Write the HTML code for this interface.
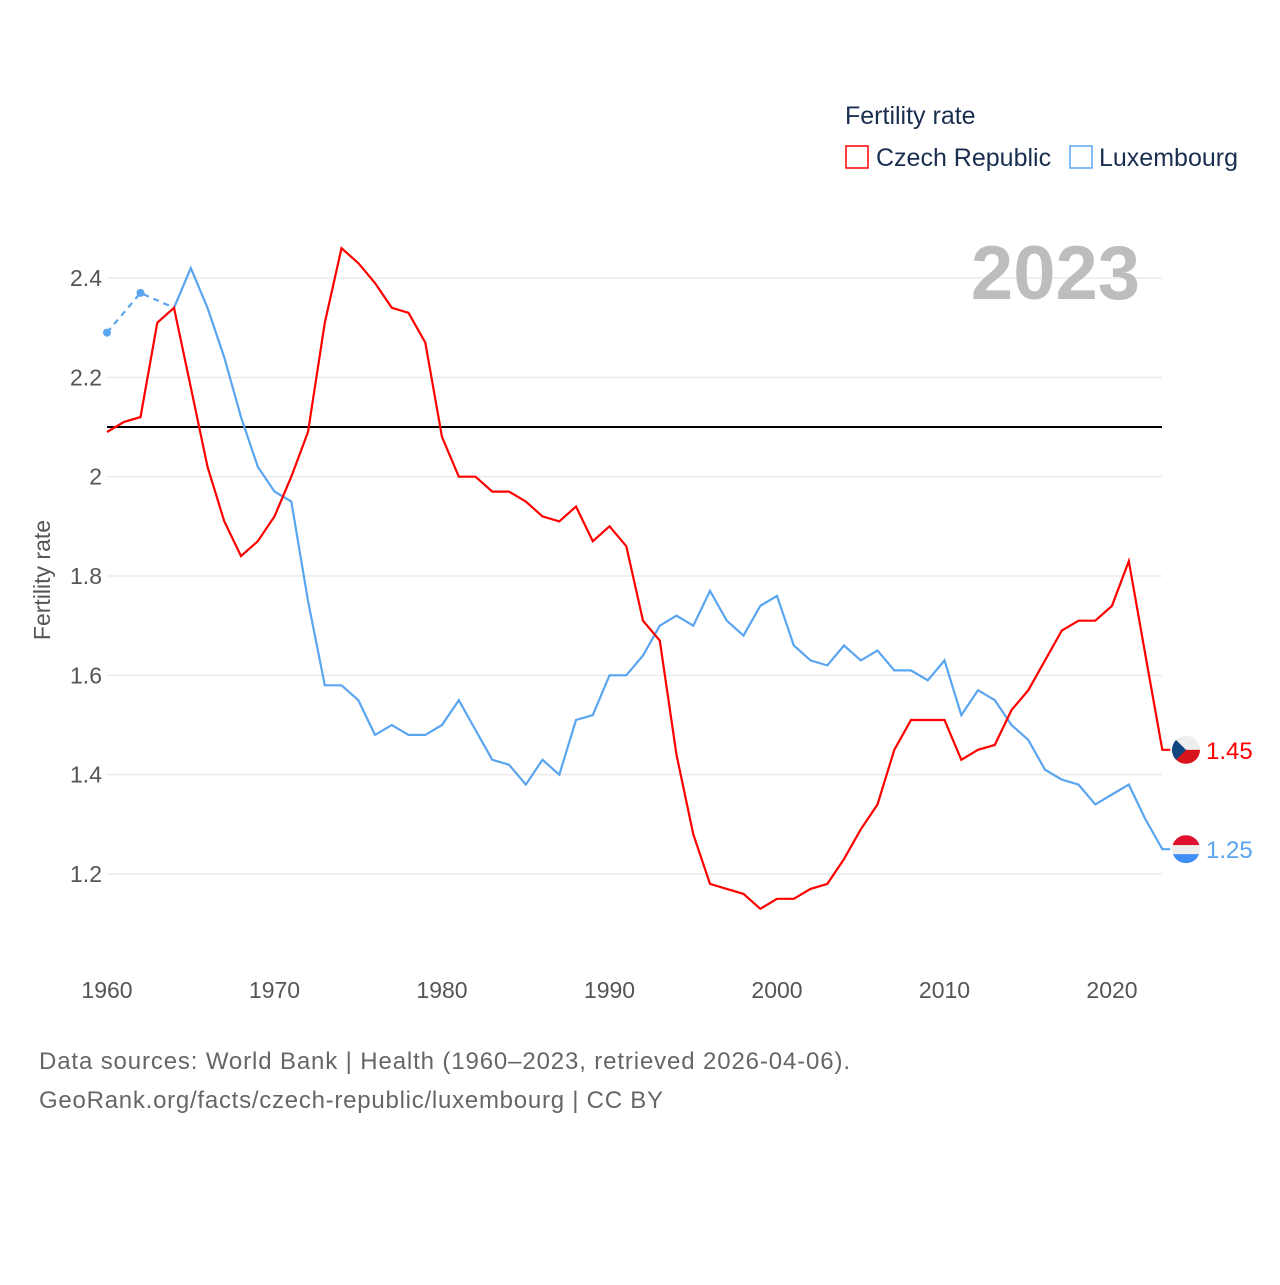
<!DOCTYPE html>
<html><head><meta charset="utf-8"><style>
body{margin:0;background:#fff;font-family:"Liberation Sans",sans-serif}
svg text{font-family:"Liberation Sans",sans-serif}
</style></head><body>
<svg id="chart" width="1280" height="1280" xmlns="http://www.w3.org/2000/svg">
<g id="grid"></g>
<g id="yticks"></g>
<g id="xticks"></g>
<line id="ref" stroke="#000" stroke-width="2"/>
<g id="series"></g>
<text transform="translate(50,580) rotate(-90)" text-anchor="middle" font-size="23" fill="#555">Fertility rate</text>
<text x="1140" y="299" text-anchor="end" font-size="76" font-weight="bold" fill="#bdbdbd">2023</text>
<g>
<text x="845" y="124" font-size="25" fill="#1a2e50">Fertility rate</text>
<g><rect x="846" y="146" width="22" height="22" fill="none" stroke="#f00" stroke-width="1.5"/><text x="876" y="166" font-size="25" fill="#1a2e50">Czech Republic</text></g>
<g><rect x="1070" y="146" width="22" height="22" fill="none" stroke="#5aa5f0" stroke-width="1.5"/><text x="1099" y="166" font-size="25" fill="#1a2e50">Luxembourg</text></g>
</g>
<text x="39" y="1069" font-size="24" fill="#666" textLength="811" lengthAdjust="spacing">Data sources: World Bank | Health (1960–2023, retrieved 2026-04-06).</text>
<text x="39" y="1108" font-size="24" fill="#666" textLength="624" lengthAdjust="spacing">GeoRank.org/facts/czech-republic/luxembourg | CC BY</text>
</svg>
<script>
const years=[];for(let y=1960;y<=2023;y++)years.push(y);
const czech=[2.09,2.11,2.12,2.31,2.34,2.18,2.02,1.91,1.84,1.87,1.92,2.00,2.09,2.31,2.46,2.43,2.39,2.34,2.33,2.27,2.08,2.00,2.00,1.97,1.97,1.95,1.92,1.91,1.94,1.87,1.90,1.86,1.71,1.67,1.44,1.28,1.18,1.17,1.16,1.13,1.15,1.15,1.17,1.18,1.23,1.29,1.34,1.45,1.51,1.51,1.51,1.43,1.45,1.46,1.53,1.57,1.63,1.69,1.71,1.71,1.74,1.83,1.64,1.45];
const luxEarlyYears=[1960,1962,1964];
const luxEarly=[2.29,2.37,2.34];
const luxYears=[];for(let y=1964;y<=2023;y++)luxYears.push(y);
const lux=[2.34,2.42,2.34,2.24,2.12,2.02,1.97,1.95,1.75,1.58,1.58,1.55,1.48,1.50,1.48,1.48,1.50,1.55,1.49,1.43,1.42,1.38,1.43,1.40,1.51,1.52,1.60,1.60,1.64,1.70,1.72,1.70,1.77,1.71,1.68,1.74,1.76,1.66,1.63,1.62,1.66,1.63,1.65,1.61,1.61,1.59,1.63,1.52,1.57,1.55,1.50,1.47,1.41,1.39,1.38,1.34,1.36,1.38,1.31,1.25];
const yTicks=[1.2,1.4,1.6,1.8,2,2.2,2.4];
const xTicks=[1960,1970,1980,1990,2000,2010,2020];
const refValue=2.1;
const X=y=>107+(y-1960)*16.75, Y=v=>874-(v-1.2)*496.67;
const NS="http://www.w3.org/2000/svg";
function mk(tag,attrs,parent){const e=document.createElementNS(NS,tag);for(const k in attrs)e.setAttribute(k,attrs[k]);parent.appendChild(e);return e;}
const grid=document.getElementById('grid'),yt=document.getElementById('yticks'),xt=document.getElementById('xticks'),ser=document.getElementById('series');
yTicks.forEach(v=>{
 const l=mk('line',{x1:107,x2:1162,y1:Y(v),y2:Y(v),stroke:'#ebebeb','stroke-width':1.5},grid);
 
 
 const t=mk('text',{x:102,y:Y(v)+8,'text-anchor':'end','font-size':23,fill:'#555'},yt);
 
 
 t.textContent=String(v);
});
xTicks.forEach(yr=>{
 const t=mk('text',{x:X(yr),y:998,'text-anchor':'middle','font-size':23,fill:'#555'},xt);
 
 
 t.textContent=String(yr);
});
const ref=document.getElementById('ref');
ref.setAttribute('x1',107);ref.setAttribute('x2',1162);ref.setAttribute('y1',Y(refValue));ref.setAttribute('y2',Y(refValue));
function pts(xs,vs){return xs.map((x,i)=>X(x).toFixed(1)+','+Y(vs[i]).toFixed(1)).join(' ');}
const ld=mk('polyline',{points:pts(luxEarlyYears,luxEarly),fill:'none',stroke:'#5aa5f0','stroke-width':2.2,'stroke-dasharray':'6,5'},ser);


luxEarlyYears.slice(0,2).forEach((yr,i)=>{
 const c=mk('circle',{cx:X(yr),cy:Y(luxEarly[i]),r:4,fill:'#5aa5f0'},ser);
 
 
});
const ll=mk('polyline',{points:pts(luxYears,lux)+' '+(X(2023)+8)+','+Y(lux[lux.length-1]).toFixed(1),fill:'none',stroke:'#5aa5f0','stroke-width':2.2},ser);


const cl=mk('polyline',{points:pts(years,czech)+' '+(X(2023)+8)+','+Y(czech[czech.length-1]).toFixed(1),fill:'none',stroke:'#f00','stroke-width':2.2},ser);


function flag(v,name,col){
 const cy=Y(v),cx=1186;
 const g=mk('g',{},ser);
 
 
 const id='clip'+name;
 const cp=mk('clipPath',{id:id},g);mk('circle',{cx:cx,cy:cy,r:14},cp);
 const gg=mk('g',{'clip-path':'url(#'+id+')'},g);
 if(name==='czech'){
  mk('rect',{x:cx-14,y:cy-14,width:28,height:14,fill:'#eee'},gg);
  mk('rect',{x:cx-14,y:cy,width:28,height:14,fill:'#d7141a'},gg);
  mk('polygon',{points:(cx-14)+','+(cy-14)+' '+(cx)+','+cy+' '+(cx-14)+','+(cy+14),fill:'#11457e'},gg);
 } else {
  mk('rect',{x:cx-14,y:cy-14,width:28,height:10,fill:'#e0102f'},gg);
  mk('rect',{x:cx-14,y:cy-4,width:28,height:9,fill:'#eee'},gg);
  mk('rect',{x:cx-14,y:cy+5,width:28,height:10,fill:'#3d8ff5'},gg);
 }
 const t=mk('text',{x:1206,y:cy+9,'font-size':24,fill:col},ser);
 
 
 t.textContent=v.toFixed(2);
}
flag(czech[czech.length-1],'czech','#f00');
flag(lux[lux.length-1],'luxembourg','#5aa5f0');
</script>
</body></html>
